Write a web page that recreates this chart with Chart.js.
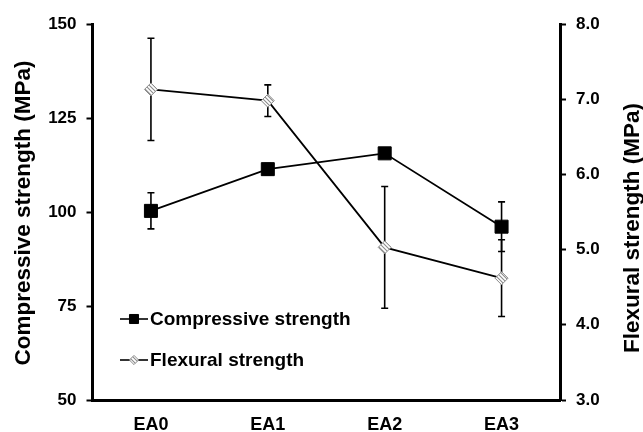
<!DOCTYPE html>
<html><head><meta charset="utf-8">
<script src="https://cdn.jsdelivr.net/npm/chart.js@4/dist/chart.umd.min.js"></script>
<style>html,body{margin:0;padding:0;background:#fff;}#wrap{position:relative;width:643px;height:432px;}</style>
</head><body><div id="wrap"><canvas id="c" width="643" height="432"></canvas></div>
<script>
const categories = ['EA0', 'EA1', 'EA2', 'EA3'];
const compressive = [100.3, 111.4, 115.6, 96.1];
const compressiveErr = [4.8, 1.5, 1.0, 6.6];
const flexural = [7.13, 6.98, 5.03, 4.62];
const flexuralErr = [0.68, 0.21, 0.81, 0.51];
const leftTicks = [50, 75, 100, 125, 150];
const rightTicks = [3, 4, 5, 6, 7, 8];
const leftTitle = 'Compressive strength (MPa)';
const rightTitle = 'Flexural strength (MPa)';
const seriesNames = ['Compressive strength', 'Flexural strength'];

const FONT = '"Liberation Sans", Arial, sans-serif';
const canvas = document.getElementById('c');
const mainCtx = canvas.getContext('2d');

function makeHatch() {
  const c = document.createElement('canvas');
  c.width = 4; c.height = 4;
  const g = c.getContext('2d');
  g.fillStyle = '#ffffff'; g.fillRect(0, 0, 4, 4);
  g.strokeStyle = '#8c8c8c'; g.lineWidth = 1.1;
  g.beginPath();
  g.moveTo(-1, -1); g.lineTo(5, 5);
  g.moveTo(-1, 3); g.lineTo(1, 5);
  g.moveTo(3, -1); g.lineTo(5, 1);
  g.stroke();
  return mainCtx.createPattern(c, 'repeat');
}
const hatch = makeHatch();

const errorBars = {
  id: 'errorBars',
  beforeDatasetsDraw(chart) {
    const ctx = chart.ctx;
    const xs = chart.scales.x;
    ctx.save();
    ctx.strokeStyle = '#000';
    ctx.lineWidth = 1.6;
    [[compressive, compressiveErr, 'y'], [flexural, flexuralErr, 'y1']].forEach(([vals, errs, ax]) => {
      const s = chart.scales[ax];
      vals.forEach((v, i) => {
        const px = xs.getPixelForValue(i);
        const top = s.getPixelForValue(v + errs[i]);
        const bot = s.getPixelForValue(v - errs[i]);
        ctx.beginPath();
        ctx.moveTo(px, top); ctx.lineTo(px, bot);
        ctx.moveTo(px - 3.5, top); ctx.lineTo(px + 3.5, top);
        ctx.moveTo(px - 3.5, bot); ctx.lineTo(px + 3.5, bot);
        ctx.stroke();
      });
    });
    ctx.restore();
  }
};

function drawMarker(ctx, style, x, y, r, fill, stroke, bw) {
  ctx.save();
  ctx.fillStyle = fill; ctx.strokeStyle = stroke; ctx.lineWidth = bw;
  ctx.beginPath();
  if (style === 'rect') {
    const h = r * Math.SQRT1_2;
    ctx.rect(x - h, y - h, 2 * h, 2 * h);
  } else {
    ctx.moveTo(x, y - r); ctx.lineTo(x + r, y); ctx.lineTo(x, y + r); ctx.lineTo(x - r, y); ctx.closePath();
  }
  ctx.fill(); ctx.stroke();
  ctx.restore();
}

const decor = {
  id: 'decor',
  afterDraw(chart) {
    const ctx = chart.ctx;
    ctx.save();
    ctx.fillStyle = '#000';
    ctx.font = 'bold 22.5px ' + FONT;
    ctx.textAlign = 'center';
    ctx.textBaseline = 'alphabetic';
    ctx.save(); ctx.translate(30, 213); ctx.rotate(-Math.PI / 2); ctx.fillText(leftTitle, 0, 0); ctx.restore();
    ctx.save(); ctx.translate(639, 228); ctx.rotate(-Math.PI / 2); ctx.fillText(rightTitle, 0, 0); ctx.restore();

    // legend
    const rows = [
      {y: 319, style: 'rect', r: 6.4, fill: '#000', stroke: '#000', bw: 1},
      {y: 360, style: 'rectRot', r: 4.6, fill: hatch, stroke: '#8c8c8c', bw: 1}
    ];
    ctx.font = 'bold 19px ' + FONT;
    ctx.textAlign = 'left';
    ctx.textBaseline = 'middle';
    rows.forEach((row, i) => {
      ctx.strokeStyle = '#000'; ctx.lineWidth = 1.6;
      ctx.beginPath(); ctx.moveTo(120, row.y); ctx.lineTo(148, row.y); ctx.stroke();
      drawMarker(ctx, row.style, 134, row.y, row.r, row.fill, row.stroke, row.bw);
      ctx.fillStyle = '#000';
      ctx.fillText(chart.data.datasets[i].label, 150, row.y + 1);
    });
    ctx.restore();
  }
};

new Chart(canvas, {
  type: 'line',
  data: {
    labels: categories,
    datasets: [
      {
        label: seriesNames[0], data: compressive, yAxisID: 'y',
        borderColor: '#000', borderWidth: 1.8,
        pointStyle: 'rect', pointRadius: 9.2, pointBackgroundColor: '#000', pointBorderColor: '#000', pointBorderWidth: 1,
        tension: 0, fill: false
      },
      {
        label: seriesNames[1], data: flexural, yAxisID: 'y1',
        borderColor: '#000', borderWidth: 1.8,
        pointStyle: 'rectRot', pointRadius: 6.5, pointBackgroundColor: hatch, pointBorderColor: '#8c8c8c', pointBorderWidth: 1,
        tension: 0, fill: false
      }
    ]
  },
  options: {
    responsive: false,
    devicePixelRatio: 1,
    animation: false,
    events: [],
    layout: {padding: {top: 24, left: 0, right: 0, bottom: 0}},
    plugins: {legend: {display: false}, tooltip: {enabled: false}},
    scales: {
      x: {
        type: 'category', offset: true,
        grid: {display: true, drawOnChartArea: false, drawTicks: false},
        border: {display: true, color: '#000', width: 3},
        ticks: {color: '#000', font: {family: FONT, size: 18, weight: 'bold'}, padding: 14},
        afterFit(s) { s.height = 32; }
      },
      y: {
        position: 'left', min: 50, max: 150,
        afterBuildTicks(s) { s.ticks = leftTicks.map(v => ({value: v})); },
        grid: {drawOnChartArea: false, drawTicks: true, tickLength: 6, tickWidth: 2, color: '#000'},
        border: {display: true, color: '#000', width: 3},
        ticks: {color: '#000', font: {family: FONT, size: 17, weight: 'bold'}, padding: 10},
        afterFit(s) { s.width = 92.5; }
      },
      y1: {
        position: 'right', min: 3, max: 8,
        afterBuildTicks(s) { s.ticks = rightTicks.map(v => ({value: v})); },
        grid: {drawOnChartArea: false, drawTicks: true, tickLength: 6, tickWidth: 2, color: '#000'},
        border: {display: true, color: '#000', width: 3},
        ticks: {color: '#000', font: {family: FONT, size: 17, weight: 'bold'}, padding: 10,
          callback: v => Number(v).toFixed(1)},
        afterFit(s) { s.width = 83; }
      }
    }
  },
  plugins: [errorBars, decor]
});
</script>
</body></html>
